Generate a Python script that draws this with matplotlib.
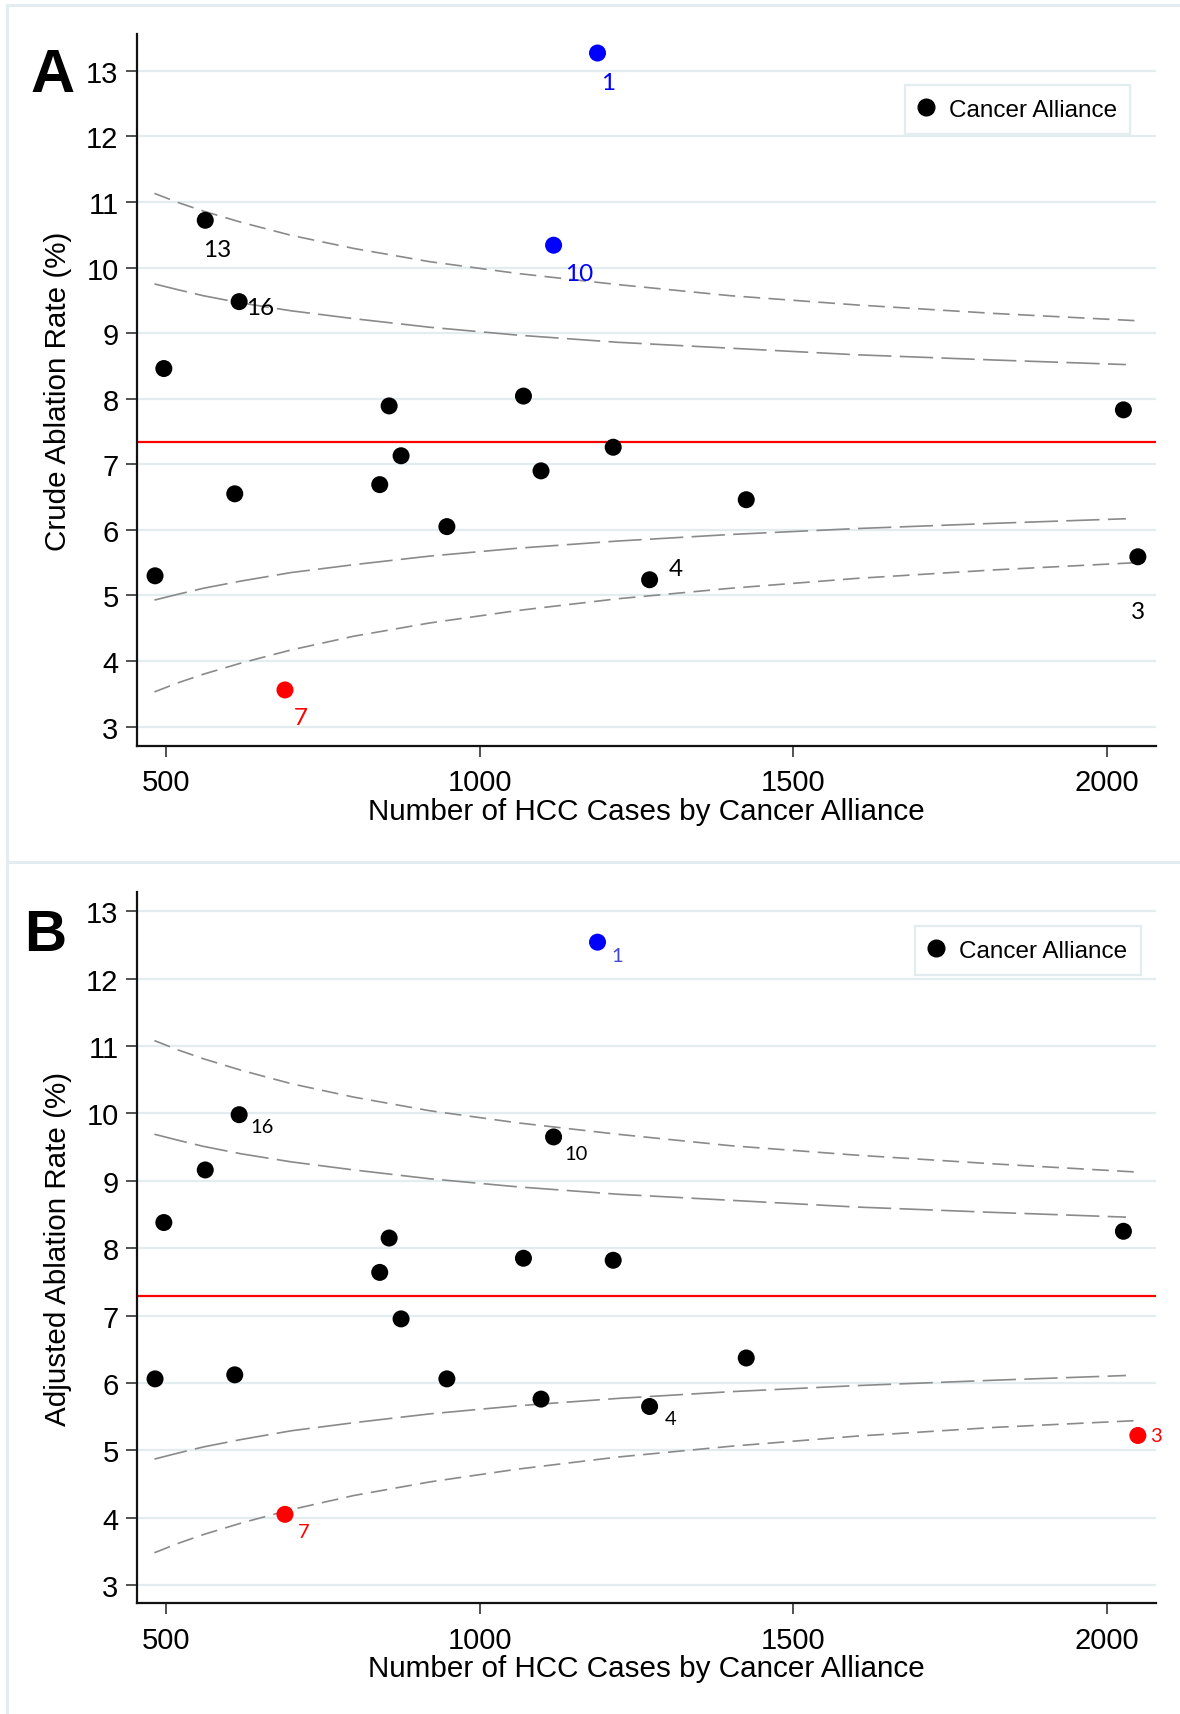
import matplotlib
matplotlib.use("Agg")
import matplotlib.pyplot as plt
from matplotlib.lines import Line2D

# number of HCC cases per Cancer Alliance (x)
cases = [483, 497, 563, 610, 617, 690, 841, 856, 875, 948,
         1070, 1098, 1118, 1188, 1213, 1271, 1425, 2026, 2049]
# crude ablation rate (%)
crude_rate = [5.30, 8.46, 10.72, 6.55, 9.48, 3.56, 6.69, 7.89, 7.13, 6.05,
              8.04, 6.90, 10.34, 13.27, 7.26, 5.24, 6.46, 7.83, 5.59]
# adjusted ablation rate (%)
adjusted_rate = [6.06, 8.38, 9.16, 6.12, 9.98, 4.05, 7.64, 8.15, 6.95, 6.06,
                 7.85, 5.76, 9.65, 12.54, 7.82, 5.65, 6.37, 8.25, 5.22]
# point labels (Cancer Alliance number), blank = unlabelled
crude_labels = ['', '', '13', '', '16', '7', '', '', '', '',
                '', '', '10', '1', '', '4', '', '', '3']
adjusted_labels = ['', '', '', '', '16', '7', '', '', '', '',
                   '', '', '10', '1', '', '4', '', '', '3']
# outlier status: hi = above upper limit, lo = below lower limit
crude_status = ['', '', '', '', '', 'lo', '', '', '', '',
                '', '', 'hi', 'hi', '', '', '', '', '']
adjusted_status = ['', '', '', '', '', 'lo', '', '', '', '',
                   '', '', '', 'hi', '', '', '', '', 'lo']

# national rates (red line)
crude_mean = 7.34
adjusted_mean = 7.29

# funnel limits
limit_x_outer = [482, 520, 560, 620, 700, 800, 920, 1060, 1220, 1400, 1600, 1820, 2045]
limit_x_inner = [482, 520, 560, 620, 700, 800, 920, 1060, 1220, 1400, 1600, 1820, 2030]
crude_upper_outer = [11.13, 10.99, 10.86, 10.69, 10.49, 10.29, 10.09, 9.91, 9.74, 9.57, 9.43, 9.30, 9.19]
crude_upper_inner = [9.75, 9.66, 9.57, 9.46, 9.34, 9.22, 9.09, 8.97, 8.86, 8.77, 8.67, 8.59, 8.52]
crude_lower_inner = [4.93, 5.02, 5.11, 5.22, 5.35, 5.47, 5.60, 5.72, 5.83, 5.93, 6.02, 6.10, 6.17]
crude_lower_outer = [3.53, 3.67, 3.80, 3.97, 4.17, 4.38, 4.58, 4.77, 4.95, 5.11, 5.26, 5.39, 5.50]
adj_upper_outer = [11.08, 10.94, 10.81, 10.64, 10.44, 10.24, 10.04, 9.86, 9.69, 9.52, 9.38, 9.25, 9.13]
adj_upper_inner = [9.69, 9.60, 9.51, 9.40, 9.28, 9.16, 9.03, 8.91, 8.80, 8.71, 8.61, 8.53, 8.46]
adj_lower_inner = [4.87, 4.96, 5.05, 5.16, 5.29, 5.41, 5.54, 5.66, 5.77, 5.87, 5.96, 6.04, 6.11]
adj_lower_outer = [3.48, 3.62, 3.75, 3.92, 4.12, 4.33, 4.53, 4.72, 4.90, 5.06, 5.21, 5.34, 5.44]

x_ticks = [500, 1000, 1500, 2000]
y_ticks = [3, 4, 5, 6, 7, 8, 9, 10, 11, 12, 13]

plt.rcParams['font.family'] = ['Liberation Sans', 'DejaVu Sans']
plt.rcParams['lines.scale_dashes'] = False

W, H = 1180, 1715
fig = plt.figure(figsize=(W / 100, H / 100), dpi=100)
fig.patch.set_facecolor('white')

GRID = '#e3ecee'
point_col = {'': 'black', 'hi': '#0000ff', 'lo': '#ff0000'}


def fx(px):
    return px / W


def fy(py):
    return 1 - py / H


# panel frames
frame_kw = dict(color=GRID, lw=2.2, transform=fig.transFigure, zorder=0)
fig.add_artist(Line2D([fx(7.3), 1], [fy(5.7), fy(5.7)], **frame_kw))
fig.add_artist(Line2D([fx(7.3), fx(7.3)], [fy(5.7), 0], **frame_kw))
fig.add_artist(Line2D([fx(7.3), 1], [fy(862.7), fy(862.7)], **frame_kw))

panels = [
    dict(letter='A', top=35, bottom=746.7, ylim=(2.71, 13.56), y=crude_rate,
         labels=crude_labels, status=crude_status, mean=crude_mean,
         lims=(crude_upper_outer, crude_upper_inner, crude_lower_inner, crude_lower_outer),
         ylabel='Crude Ablation Rate (%)', letter_xy=(53, 77), letter_size=44,
         lab_size=17.5, leg_anchor=(0.9748, 0.928),
         offsets={'13': (12, 29), '16': (21, 6), '10': (26, 28), '1': (11, 29),
                  '7': (16, 28), '4': (26, -11), '3': (0, 55)},
         lab_col={'1': '#0000ff', '10': '#0000ff', '7': '#ff0000'}),
    dict(letter='B', top=893.3, bottom=1604.3, ylim=(2.73, 13.28), y=adjusted_rate,
         labels=adjusted_labels, status=adjusted_status, mean=adjusted_mean,
         lims=(adj_upper_outer, adj_upper_inner, adj_lower_inner, adj_lower_outer),
         ylabel='Adjusted Ablation Rate (%)', letter_xy=(45, 936), letter_size=42,
         lab_size=14.5, leg_anchor=(0.9849, 0.952),
         offsets={'16': (23, 12), '10': (22, 17), '1': (20, 13), '7': (19, 17),
                  '4': (21, 12), '3': (18, 0)},
         lab_col={'1': '#4646d6', '7': '#ff0000', '3': '#ff0000'}),
]

left, right = 136.6, 1156
for p in panels:
    ax = fig.add_axes([fx(left), fy(p['bottom']), (right - left) / W,
                       (p['bottom'] - p['top']) / H])
    ax.set_xlim(453.6, 2077.9)
    ax.set_ylim(*p['ylim'])
    ax.set_xticks(x_ticks)
    ax.set_yticks(y_ticks)
    ax.tick_params(axis='both', labelsize=21, length=8, width=1.1, color='#222222',
                   direction='out')
    ax.tick_params(axis='x', pad=8)
    ax.tick_params(axis='y', pad=5)
    for s in ['top', 'right']:
        ax.spines[s].set_visible(False)
    for s in ['left', 'bottom']:
        ax.spines[s].set_linewidth(1.6)
        ax.spines[s].set_color('#111111')
    ax.grid(axis='y', color=GRID, lw=1.6, zorder=0)
    ax.set_axisbelow(True)

    uo, ui, li, lo = p['lims']
    ax.plot(limit_x_outer, uo, color='#8a8a8a', lw=1.2, dashes=(12, 6), zorder=2)
    ax.plot(limit_x_inner, ui, color='#8a8a8a', lw=1.2, dashes=(24, 6), zorder=2)
    ax.plot(limit_x_inner, li, color='#8a8a8a', lw=1.2, dashes=(24, 6), zorder=2)
    ax.plot(limit_x_outer, lo, color='#8a8a8a', lw=1.2, dashes=(12, 6), zorder=2)
    ax.axhline(p['mean'], color='#ff0000', lw=1.6, zorder=2)

    cols = [point_col[s] for s in p['status']]
    ax.scatter(cases, p['y'], s=150, c=cols, linewidths=0, zorder=3)

    for xv, yv, lab in zip(cases, p['y'], p['labels']):
        if not lab:
            continue
        dx, dy = p['offsets'][lab]
        ax.annotate(lab, (xv, yv), xytext=(dx * 0.72, -dy * 0.72),
                    textcoords='offset points', ha='center', va='center',
                    fontsize=p['lab_size'], family=['Lato', 'DejaVu Sans'],
                    color=p['lab_col'].get(lab, 'black'), zorder=4)

    handle = Line2D([], [], marker='o', ls='none', color='black', markersize=12)
    leg = ax.legend([handle], ['Cancer Alliance'], loc='upper right',
                    bbox_to_anchor=p['leg_anchor'], fontsize=17.5, frameon=True,
                    fancybox=False, edgecolor=GRID, framealpha=1, borderpad=0.55,
                    handletextpad=0.65, handlelength=0.6, borderaxespad=0)
    leg.get_frame().set_linewidth(1.6)

    fig.text(fx(58.5), fy((p['top'] + p['bottom']) / 2), p['ylabel'], rotation=90,
             ha='center', va='center', fontsize=21.3)
    fig.text(fx((left + right) / 2), fy(p['bottom'] + 65), 'Number of HCC Cases by Cancer Alliance',
             ha='center', va='center', fontsize=21.3)
    fig.text(fx(p['letter_xy'][0]), fy(p['letter_xy'][1]), p['letter'], ha='center',
             va='center', fontsize=p['letter_size'], fontweight='bold')

fig.savefig('out.png', dpi=100, facecolor='white')
